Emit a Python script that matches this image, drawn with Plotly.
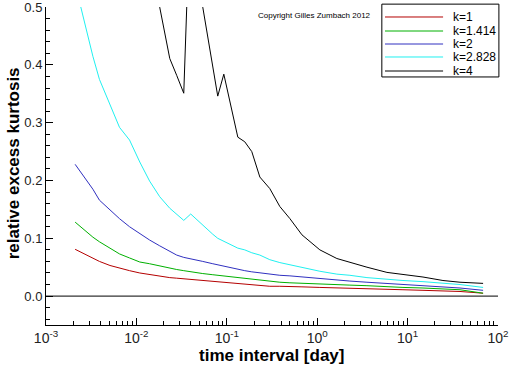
import plotly.graph_objects as go

# time interval in days (shared grid)
time_days = [0.0021, 0.0027, 0.0033, 0.0039, 0.0051, 0.0065, 0.0084, 0.0109, 0.014,
             0.0181, 0.0234, 0.0279, 0.0334, 0.0399, 0.0466, 0.0542, 0.070, 0.0794,
             0.0927, 0.1324, 0.158, 0.189, 0.232, 0.299, 0.386, 0.499, 0.678, 1.07,
             1.65, 2.30, 3.55, 5.91, 8.89, 14.8, 24.6, 38.0, 68.4]

k_1 = [0.081, 0.072, 0.065, 0.060, 0.053, 0.048, 0.044, 0.040, 0.037,
       0.034, 0.032, 0.031, 0.030, 0.029, 0.028, 0.027, 0.026, 0.025,
       0.024, 0.022, 0.021, 0.020, 0.019, 0.017, 0.017, 0.016, 0.016, 0.015,
       0.014, 0.013, 0.012, 0.012, 0.011, 0.010, 0.009, 0.008, 0.005]

k_1414 = [0.128, 0.113, 0.102, 0.094, 0.083, 0.073, 0.066, 0.059, 0.056,
          0.052, 0.049, 0.046, 0.044, 0.042, 0.040, 0.039, 0.037, 0.036,
          0.035, 0.032, 0.030, 0.029, 0.027, 0.025, 0.024, 0.023, 0.022, 0.021,
          0.020, 0.019, 0.018, 0.016, 0.015, 0.014, 0.013, 0.011, 0.005]

k_2 = [0.228, 0.204, 0.185, 0.166, 0.149, 0.134, 0.120, 0.108, 0.097,
       0.087, 0.078, 0.071, 0.067, 0.064, 0.062, 0.060, 0.056, 0.054,
       0.052, 0.046, 0.044, 0.042, 0.040, 0.038, 0.036, 0.035, 0.033, 0.030,
       0.028, 0.026, 0.024, 0.022, 0.021, 0.019, 0.017, 0.014, 0.010]

k_2828 = [0.54, 0.468, 0.415, 0.375, 0.333, 0.292, 0.270, 0.232, 0.199,
          0.172, 0.152, 0.142, 0.131, 0.142, 0.132, 0.123, 0.107, 0.100,
          0.095, 0.083, 0.080, 0.075, 0.071, 0.063, 0.058, 0.054, 0.050, 0.043,
          0.038, 0.036, 0.032, 0.029, 0.027, 0.025, 0.023, 0.020, 0.015]

k_4 = [1.6, 1.35, 1.2, 1.05, 0.9, 0.8, 0.72, 0.65, 0.57,
       0.50, 0.411, 0.382, 0.351, 0.70, 0.75, 0.50, 0.397, 0.346,
       0.384, 0.275, 0.267, 0.250, 0.206, 0.186, 0.155, 0.134, 0.106, 0.080,
       0.065, 0.058, 0.050, 0.041, 0.038, 0.033, 0.027, 0.024, 0.022]

series_names = ["k=1", "k=1.414", "k=2", "k=2.828", "k=4"]
series_values = [k_1, k_1414, k_2, k_2828, k_4]
series_colors = ["#b40000", "#00b000", "#3030c0", "#20f0f0", "#000000"]

y_ticks = [0.0, 0.1, 0.2, 0.3, 0.4, 0.5]
x_exponents = [-3, -2, -1, 0, 1, 2]
x_tickvals = [10.0 ** e for e in x_exponents]
x_ticktext = ["10<sup>%d</sup>" % e for e in x_exponents]

FONT = "Liberation Sans"

fig = go.Figure()
for name, vals, col in zip(series_names, series_values, series_colors):
    fig.add_trace(go.Scatter(x=time_days, y=vals, mode="lines", name=name,
                             line=dict(color=col, width=1), showlegend=False))

# zero line
fig.add_shape(type="line", xref="paper", yref="y", x0=0, x1=1, y0=0, y1=0,
              line=dict(color="black", width=1))

# custom legend box
L_LEFT, L_RIGHT, L_TOP, L_BOTTOM = 0.743, 1.002, 1.009, 0.780
fig.add_shape(type="rect", xref="paper", yref="paper", x0=L_LEFT, x1=L_RIGHT,
              y0=L_BOTTOM, y1=L_TOP, line=dict(color="black", width=1),
              fillcolor="white", layer="above")
entry_y = [0.9686, 0.9245, 0.8836, 0.8428, 0.7987]
for name, col, ey in zip(series_names, series_colors, entry_y):
    fig.add_shape(type="line", xref="paper", yref="paper", x0=0.750, x1=0.8785,
                  y0=ey, y1=ey, line=dict(color=col, width=1), layer="above")
    fig.add_annotation(xref="paper", yref="paper", x=0.896, y=ey, text=name,
                       showarrow=False, xanchor="left", yanchor="middle",
                       font=dict(family=FONT, size=12, color="black"))

fig.add_annotation(xref="paper", yref="paper", x=0.4646, y=0.9717,
                   text="Copyright Gilles Zumbach 2012", showarrow=False,
                   xanchor="left", yanchor="middle",
                   font=dict(family=FONT, size=8, color="black"))

# axis titles placed as annotations
fig.add_annotation(xref="paper", yref="paper", x=0.5, y=-0.096,
                   text="time interval [day]", showarrow=False,
                   xanchor="center", yanchor="middle",
                   font=dict(family=FONT, size=17, color="black", weight="bold"))
fig.add_annotation(xref="paper", yref="paper", x=-0.072, y=0.51,
                   text="relative excess kurtosis", showarrow=False, textangle=-90,
                   xanchor="center", yanchor="middle",
                   font=dict(family=FONT, size=17, color="black", weight="bold"))

fig.update_xaxes(type="log", range=[-3, 2], tickvals=x_tickvals, ticktext=x_ticktext,
                 showline=True, linecolor="black", linewidth=1, mirror=False,
                 ticks="inside", ticklen=7, tickcolor="black",
                 minor=dict(ticks="inside", ticklen=4, tickcolor="black", dtick="D1"),
                 showgrid=False, zeroline=False, automargin=False,
                 ticklabeloverflow="allow",
                 tickfont=dict(family=FONT, size=14, color="#222"))
fig.update_yaxes(range=[-0.05, 0.5002], tickvals=y_ticks, tickformat=".1f",
                 showline=True, linecolor="black", linewidth=1,
                 ticks="inside", ticklen=7, tickcolor="black",
                 minor=dict(ticks="inside", ticklen=4, tickcolor="black", dtick=0.02),
                 showgrid=False, zeroline=False, automargin=False,
                 ticklabeloverflow="allow",
                 tickfont=dict(family=FONT, size=13, color="#222"))

fig.update_layout(width=512, height=366, margin=dict(l=46, r=14, t=7, b=41),
                  paper_bgcolor="white", plot_bgcolor="white")

fig.write_html("out.html", config={"displayModeBar": False},
               post_script="document.body.style.margin='0';document.body.style.padding='0';")
